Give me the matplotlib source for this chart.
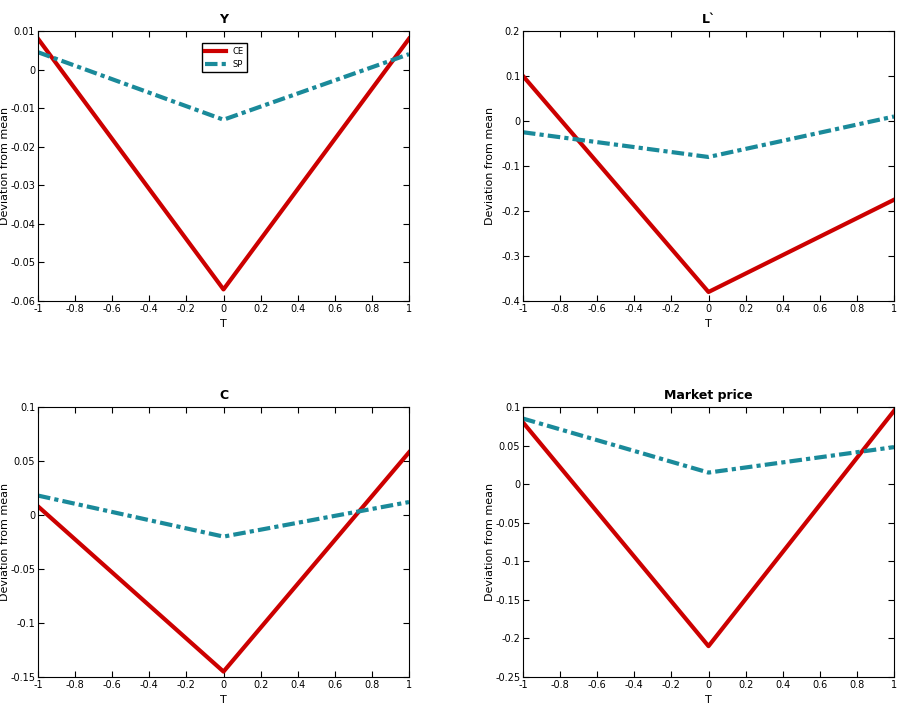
import matplotlib
matplotlib.use('Agg')
import matplotlib.pyplot as plt
import numpy as np

plt.rcParams['font.family'] = ['Liberation Sans Narrow', 'DejaVu Sans']

t = [-1, 0, 1]
titles = ['Y', 'L`', 'C', 'Market price']
ce = [[0.008, -0.057, 0.008],
      [0.1, -0.38, -0.175],
      [0.008, -0.145, 0.058],
      [0.08, -0.21, 0.095]]
sp = [[0.0045, -0.013, 0.004],
      [-0.025, -0.08, 0.01],
      [0.018, -0.02, 0.012],
      [0.085, 0.015, 0.048]]
ylims = [(-0.06, 0.01), (-0.4, 0.2), (-0.15, 0.1), (-0.25, 0.1)]
yticks = [np.arange(-0.06, 0.0101, 0.01), np.arange(-0.4, 0.201, 0.1),
          np.arange(-0.15, 0.101, 0.05), np.arange(-0.25, 0.101, 0.05)]


def fmt(v):
    v = round(float(v), 3) + 0.0
    return '%g' % v


W, H = 897, 728
fig = plt.figure(figsize=(W / 100, H / 100), dpi=100)
boxes = [(38, 31), (523, 31), (38, 407), (523, 407)]
xt = np.arange(-1, 1.01, 0.2)
for i in range(4):
    x0, y0 = boxes[i]
    ax = fig.add_axes([x0 / W, 1 - (y0 + 270) / H, 371 / W, 270 / H])
    ax.plot(t, ce[i], color='#cc0000', lw=3, label='CE')
    ax.plot(t, sp[i], color='#1a8a9a', lw=3, ls=(0, (3, 1, 1, 1)), label='SP')
    ax.set_xlim(-1, 1)
    ax.set_ylim(*ylims[i])
    ax.set_xticks(xt)
    ax.set_xticklabels([fmt(v) for v in xt])
    ax.set_yticks(yticks[i])
    ax.set_yticklabels([fmt(v) for v in yticks[i]])
    ax.tick_params(direction='in', top=True, right=True, labelsize=7, length=4, pad=2)
    ax.set_title(titles[i], fontsize=9, fontweight='bold')
    ax.set_xlabel('T', fontsize=8)
    ax.set_ylabel('Deviation from mean', fontsize=8)
    ax.yaxis.set_label_coords(-28 / 371, 0.5)
    if i == 0:
        ax.legend(loc='upper left', bbox_to_anchor=(0.43, 0.97), fontsize=6,
                  handlelength=2.5, fancybox=False, edgecolor='black', framealpha=1)

fig.savefig('out.png', dpi=100)
